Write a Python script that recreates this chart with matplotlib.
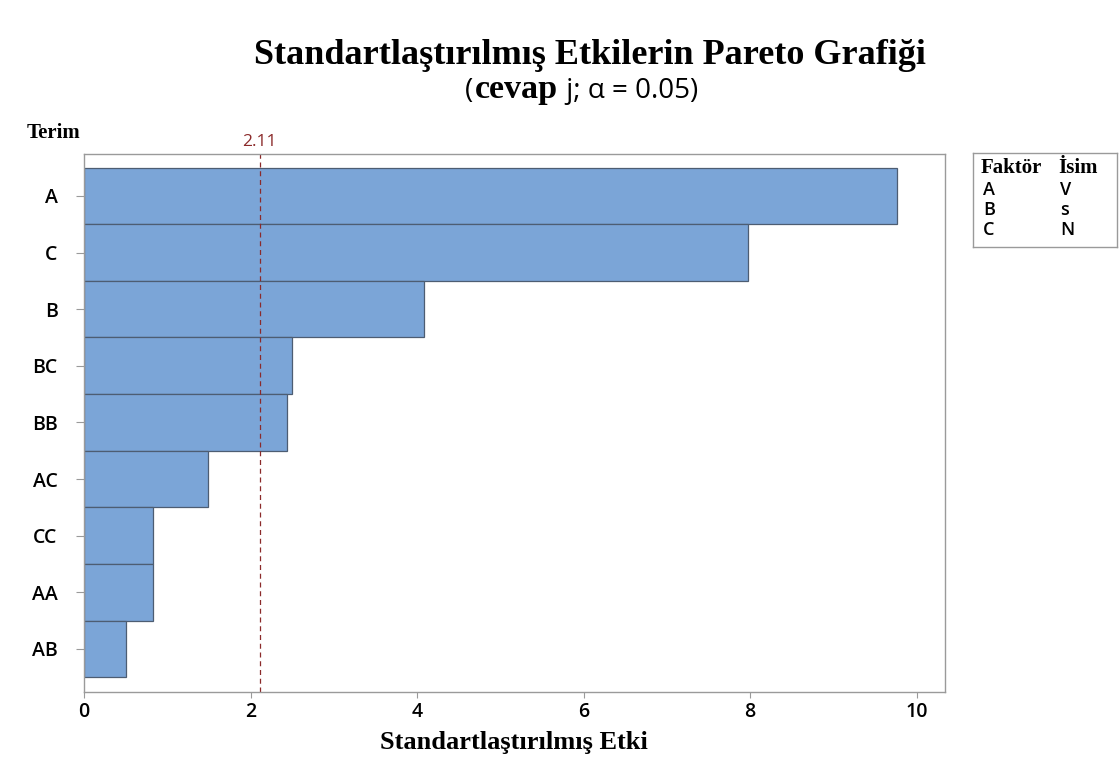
import matplotlib
matplotlib.use("Agg")
import matplotlib.pyplot as plt

terms = ["A", "C", "B", "BC", "BB", "AC", "CC", "AA", "AB"]
effects = [9.76, 7.97, 4.08, 2.50, 2.44, 1.49, 0.83, 0.83, 0.50]
critical = 2.11
factors = ["A", "B", "C"]
names = ["V", "s", "N"]

SERIF = "Liberation Serif"
SANS = "Open Sans"
GRAY = "#9a9a9a"

fig = plt.figure(figsize=(11.2, 7.6), dpi=100)
ax = fig.add_axes([84 / 1120, 1 - 692 / 760, (945 - 84) / 1120, (692 - 154) / 760])

n = len(terms)
ypos = list(range(n - 1, -1, -1))
ax.barh(ypos, effects, height=1.0, color="#7BA5D7", edgecolor="#4d5d72", linewidth=0.9)
ax.axvline(critical, color="#8b2a2a", ls=(0, (4, 3)), lw=0.9)

ax.set_xlim(0, 10.34)
ax.set_ylim(-0.76, n - 0.26)
ax.set_yticks(ypos)
ax.set_yticklabels(terms)
ax.set_xticks([0, 2, 4, 6, 8, 10])
for lab in ax.get_xticklabels() + ax.get_yticklabels():
    lab.set_fontfamily(SANS)
    lab.set_fontweight("semibold")
    lab.set_fontsize(14)
ax.tick_params(axis="y", length=6, color=GRAY, pad=13)
ax.tick_params(axis="x", length=4, color=GRAY, pad=3)
for s in ax.spines.values():
    s.set_color(GRAY)
    s.set_linewidth(1.0)

ax.text(critical, 1.008, "2.11", transform=ax.get_xaxis_transform(), ha="center", va="bottom",
        color="#8b2a2a", fontsize=12.5, fontfamily=SANS)

fig.text(27 / 1120, 1 - 133 / 760, "Terim", fontfamily=SERIF, fontweight="bold", fontsize=15,
         ha="left", va="center")

fig.text(590 / 1120, 1 - 55 / 760, "Standartlaştırılmış Etkilerin Pareto Grafiği", fontfamily=SERIF,
         fontweight="bold", fontsize=26, ha="center", va="center")

# alt baslik: karisik fontlar, parcalar yan yana, ortalanmis
base_y = 1 - 98 / 760
parts = [("(", dict(fontfamily=SANS, fontsize=20)),
         ("cevap", dict(fontfamily=SERIF, fontweight="bold", fontsize=24.5)),
         (" j; α = 0.05)", dict(fontfamily=[SANS, "DejaVu Sans"], fontsize=20))]
texts = [fig.text(0, base_y, s, ha="left", va="baseline", **kw) for s, kw in parts]
fig.canvas.draw()
r = fig.canvas.get_renderer()
widths = [t.get_window_extent(r).width + 1 for t in texts]
x = 582 - sum(widths) / 2
for t, w in zip(texts, widths):
    t.set_x(x / 1120)
    x += w

fig.text(514 / 1120, 1 - 743 / 760, "Standartlaştırılmış Etki", fontfamily=SERIF, fontweight="bold",
         fontsize=19, ha="center", va="center")

# faktor kutusu
lax = fig.add_axes([973 / 1120, 1 - 247 / 760, (1117 - 973) / 1120, (247 - 153) / 760])
lax.set_xticks([]); lax.set_yticks([])
for s in lax.spines.values():
    s.set_color(GRAY)
    s.set_linewidth(1.0)
lax.set_xlim(0, 144); lax.set_ylim(94, 0)
lax.text(8, 15, "Faktör", fontfamily=SERIF, fontweight="bold", fontsize=15, va="center")
lax.text(85, 15, "İsim", fontfamily=SERIF, fontweight="bold", fontsize=15, va="center")
for i, (f, nm) in enumerate(zip(factors, names)):
    yy = 37 + i * 20
    lax.text(10, yy, f, fontfamily=SANS, fontweight="semibold", fontsize=13, va="center")
    lax.text(87, yy, nm, fontfamily=SANS, fontweight="semibold", fontsize=13, va="center")

fig.savefig("out.png", dpi=100)
